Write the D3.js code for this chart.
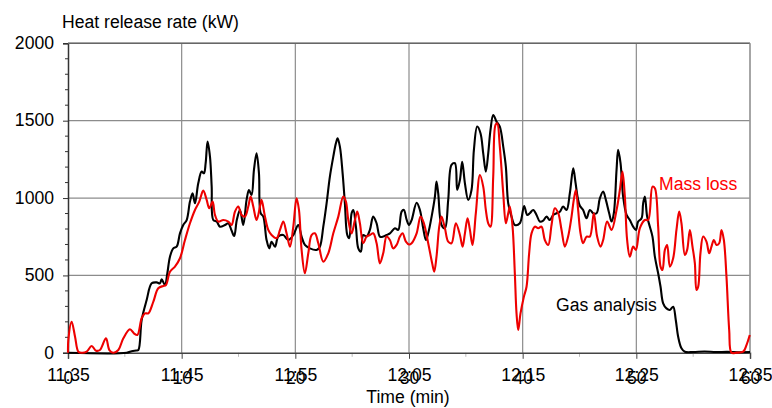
<!DOCTYPE html>
<html><head><meta charset="utf-8">
<script src="https://cdn.jsdelivr.net/npm/d3@7"></script>
<style>
html,body{margin:0;padding:0;background:#fff;}
svg{display:block;font-family:"Liberation Sans",Arial,sans-serif;}
</style></head>
<body><svg id="c" width="772" height="408"></svg>
<script>
// Time in minutes from start (11:35), values in kW
const gasTime = [0,5.16,5.6,6.0,6.19,6.48,6.92,7.36,7.80,8.09,8.24,8.53,8.74,8.97,9.26,9.56,9.85,10.14,10.44,10.73,10.96,11.17,11.46,11.76,11.96,12.11,12.28,12.49,12.64,12.78,13.08,13.37,13.81,14.10,14.39,14.62,14.85,15.13,15.42,15.71,15.92,16.15,16.36,16.59,16.80,16.95,17.18,17.47,17.71,17.91,18.21,18.50,18.94,19.38,19.82,20.26,20.55,20.84,21.28,21.87,22.16,22.46,22.75,23.04,23.34,23.57,23.72,23.92,24.16,24.36,24.57,24.74,24.95,25.10,25.33,25.54,25.77,25.97,26.27,26.56,26.85,27.15,27.44,27.73,28.03,28.32,28.76,29.05,29.35,29.55,29.79,30.0,30.23,30.67,30.96,31.25,31.49,31.69,31.99,32.28,32.42,32.57,32.86,33.16,33.45,33.74,34.04,34.24,34.48,34.68,34.92,35.21,35.50,35.71,36.00,36.29,36.53,36.76,36.97,37.17,37.41,37.70,37.99,38.29,38.52,38.73,39.02,39.31,39.75,40.13,40.40,40.63,40.93,41.22,41.51,41.81,42.10,42.39,42.69,42.98,43.27,43.56,43.86,44.15,44.45,44.65,44.85,45.03,45.32,45.62,45.91,46.20,46.50,46.79,47.08,47.32,47.61,47.82,48.02,48.26,48.40,48.61,48.84,49.14,49.43,49.72,49.96,50.16,50.46,50.60,50.75,50.95,51.19,51.42,51.63,51.92,52.13,52.36,52.65,52.95,53.24,53.47,53.68,53.97,54.27,55,56,57,58,59,60];
const gasHRR = [0,0,10,15,18,212,341,449,455,449,475,438,514,621,675,686,772,826,858,977,1031,966,1095,1171,1160,1225,1365,1268,1074,858,848,815,826,837,790,755,858,923,826,988,1052,1020,1182,1289,1160,902,880,729,675,718,686,751,761,729,761,826,751,697,675,665,686,815,966,1139,1268,1354,1386,1332,1160,966,761,740,902,923,815,675,654,761,751,794,880,837,751,751,761,772,805,794,912,923,860,826,858,970,923,805,729,772,880,1009,1106,1031,826,805,988,1214,1225,1052,1117,1235,1095,988,1052,1311,1462,1419,1289,1171,1289,1440,1537,1494,1462,1332,1203,966,880,826,837,949,891,902,923,891,848,854,880,858,891,902,912,945,923,1031,1192,1100,1000,950,923,869,923,902,902,998,1042,988,902,848,902,1182,1311,1225,1009,891,858,815,794,848,869,966,1009,880,815,751,621,514,427,320,287,277,298,212,104,29,7,5,8,5,6,4,5];

const massTime = [0,0.03,0.32,0.62,0.91,1.20,1.64,2.08,2.46,2.81,3.34,3.64,3.99,4.43,4.87,5.45,5.80,6.10,6.48,6.77,7.07,7.51,7.94,8.38,8.62,8.97,9.41,9.85,10.29,10.73,11.17,11.55,11.90,12.20,12.43,12.72,12.93,13.22,13.66,14.10,14.39,14.69,14.98,15.27,15.57,15.86,16.07,16.30,16.59,16.89,17.03,17.33,17.62,17.91,18.35,18.65,18.94,19.23,19.53,19.82,20.11,20.32,20.55,20.84,21.14,21.43,21.72,22.02,22.46,22.90,23.34,23.78,24.22,24.45,24.66,24.95,25.24,25.45,25.68,25.97,26.27,26.56,26.85,27.15,27.44,27.73,28.03,28.32,28.61,28.91,29.20,29.43,29.73,30.00,30.23,30.67,31.02,31.31,31.69,32.04,32.22,32.42,32.66,32.86,33.16,33.45,33.74,34.12,34.48,34.71,34.92,35.15,35.36,35.59,35.88,36.24,36.53,36.76,36.97,37.17,37.41,37.61,37.76,37.99,38.29,38.52,38.73,38.87,39.11,39.31,39.46,39.61,39.81,40.11,40.34,40.57,40.78,41.07,41.37,41.66,41.95,42.25,42.54,42.83,43.13,43.42,43.71,44.00,44.30,44.50,44.68,44.88,45.09,45.32,45.62,45.91,46.26,46.55,46.85,47.08,47.43,47.82,48.26,48.55,48.78,48.99,49.19,49.43,49.72,49.96,50.31,50.75,51.04,51.42,51.63,51.92,52.13,52.30,52.51,52.71,52.95,53.24,53.53,53.77,53.97,54.27,54.47,54.71,54.94,55.15,55.29,55.44,55.64,55.88,56.17,56.41,56.61,56.82,57.05,57.29,57.49,57.70,57.93,58.17,58.37,58.81,59.40,59.69,59.98];
const massHRR = [0,83,201,104,7,0,7,44,14,18,94,18,0,18,94,152,126,115,223,255,255,331,417,432,438,524,557,611,729,837,923,977,1048,988,934,977,891,848,858,848,826,912,945,891,880,945,1009,945,858,945,988,880,794,761,740,794,848,772,686,815,998,923,665,514,643,761,772,708,589,643,772,880,1009,977,858,772,858,912,837,708,751,761,772,708,578,643,751,729,675,697,751,772,718,700,708,772,880,837,708,578,524,621,815,880,805,718,708,837,761,686,772,869,794,697,902,1149,1074,923,837,815,1139,1473,1483,1332,1031,837,902,945,815,514,255,147,255,363,427,643,772,815,805,815,729,697,826,934,902,794,686,751,880,990,1052,923,772,708,751,751,902,751,686,729,848,794,923,1052,1171,1009,729,621,686,665,805,858,858,1074,1063,815,557,535,665,697,557,611,794,912,837,632,665,794,686,578,406,427,643,751,718,643,686,729,697,708,794,729,492,147,1,1,7,50,115];

const xTicks = [0,10,20,30,40,50,60];
const xClockLabels = ["11:35","11:45","11:55","12:05","12:15","12:25","12:35"];
const xMinuteLabels = ["0","10","20","30","40","50","60"];
const yTicks = [0,500,1000,1500,2000];
const seriesNames = ["Mass loss","Gas analysis"];
const titleText = "Heat release rate (kW)";
const xTitleText = "Time (min)";

const FS = 17.6;
const FF = "Liberation Sans, Arial, sans-serif";
const svg = d3.select("#c");
const L = 68, R = 750, T = 43.3, B = 352.8;
const x = d3.scaleLinear().domain([0,60]).range([L,R]);
const y = d3.scaleLinear().domain([0,2000]).range([B,T]);
const gridCol = "#8c8c8c";

// gridlines
svg.append("g").selectAll("line").data(yTicks.filter(d=>d>0)).join("line")
  .attr("x1",L).attr("x2",R).attr("y1",d=>y(d)).attr("y2",d=>y(d))
  .attr("stroke",gridCol).attr("stroke-width",1.2);
svg.append("g").selectAll("line").data(xTicks.filter(d=>d>0)).join("line")
  .attr("y1",T).attr("y2",B).attr("x1",d=>x(d)).attr("x2",d=>x(d))
  .attr("stroke",gridCol).attr("stroke-width",1.2);

// minor x ticks
svg.append("g").selectAll("line").data(d3.range(5,60,10)).join("line")
  .attr("x1",d=>x(d)).attr("x2",d=>x(d)).attr("y1",B).attr("y2",B+4)
  .attr("stroke","#bbb").attr("stroke-width",1);
// minor y ticks
svg.append("g").selectAll("line").data(d3.range(100,2000,100).filter(d=>d%500)).join("line")
  .attr("x1",L-3).attr("x2",L).attr("y1",d=>y(d)).attr("y2",d=>y(d))
  .attr("stroke","#333").attr("stroke-width",1);

// axes
const yAxis = d3.axisLeft(y).tickValues(yTicks).tickSize(5).tickPadding(9).tickFormat(d3.format("d"));
const gy = svg.append("g").attr("transform",`translate(${L},0)`).call(yAxis);
gy.select(".domain").attr("stroke","#333").attr("stroke-width",1.5);
gy.selectAll(".tick line").attr("stroke","#333");
gy.selectAll("text").attr("font-size",FS).attr("fill","#000").attr("font-family",FF).attr("dy","0.3em");

const xAxis = d3.axisBottom(x).tickValues(xTicks).tickSize(6).tickFormat((d,i)=>xClockLabels[i]);
const gx = svg.append("g").attr("transform",`translate(0,${B})`).call(xAxis);
gx.select(".domain").attr("stroke","#444").attr("stroke-width",1.5);
gx.selectAll(".tick line").attr("stroke","#444");
gx.selectAll("text").attr("y",15.5).attr("dy","0.71em").attr("font-size",FS).attr("fill","#000").attr("font-family",FF);
gx.selectAll(".tick").append("text")
  .attr("y",18.5).attr("dy","0.71em").attr("text-anchor","middle")
  .attr("font-size",FS).attr("fill","#000").attr("font-family",FF)
  .text((d,i)=>xMinuteLabels[i]);

// top and right borders
svg.append("line").attr("x1",L).attr("x2",R).attr("y1",T).attr("y2",T).attr("stroke","#666").attr("stroke-width",1.5);
svg.append("line").attr("x1",R).attr("x2",R).attr("y1",T).attr("y2",B).attr("stroke","#999").attr("stroke-width",1.2);

// lines
const massData = massTime.map((t,i)=>[t,massHRR[i]]);
const gasData = gasTime.map((t,i)=>[t,gasHRR[i]]);
const lineGen = d3.line().x(d=>x(d[0])).y(d=>y(Math.max(0,d[1]))).curve(d3.curveCatmullRom.alpha(0.5));
svg.append("path").datum(gasData).attr("d",lineGen).attr("fill","none").attr("stroke","#000").attr("stroke-width",2.1);
svg.append("path").datum(massData).attr("d",lineGen).attr("fill","none").attr("stroke","#ee0000").attr("stroke-width",2.1);

// labels
const txt = (s,xx,yy,col,anchor)=>svg.append("text").attr("x",xx).attr("y",yy).attr("fill",col)
  .attr("font-size",FS).attr("font-family",FF).attr("text-anchor",anchor||"start").text(s);
txt(titleText,62,28,"#000");
txt(xTitleText,408,403,"#000","middle");
txt(seriesNames[0],659,190,"#ff0000");
txt(seriesNames[1],556,311,"#000");
</script></body></html>
